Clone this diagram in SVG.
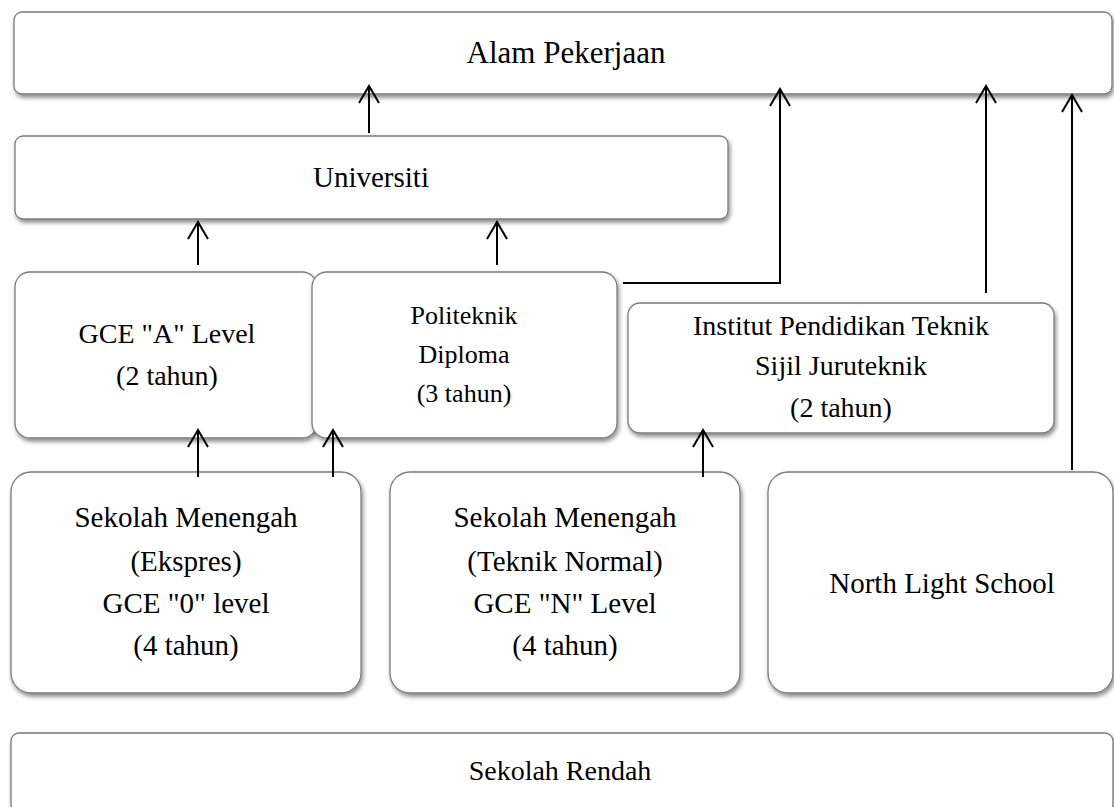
<svg xmlns="http://www.w3.org/2000/svg" width="1114" height="807" viewBox="0 0 1114 807">
  <defs>
    <filter id="shadow" x="-5%" y="-10%" width="110%" height="130%">
      <feDropShadow dx="1.5" dy="3" stdDeviation="2" flood-color="#000" flood-opacity="0.45"/>
    </filter>
    <!-- open V arrowhead, drawn pointing along +x so orient="auto" follows the line -->
    <marker id="arrow" viewBox="0 0 20 22" refX="18" refY="11" markerWidth="20" markerHeight="22" markerUnits="userSpaceOnUse" orient="auto">
      <path d="M1,1 L18,11 L1,21" fill="none" stroke="#000" stroke-width="2"/>
    </marker>
  </defs>
  <style>
    .box { fill: #fff; stroke: #7a7a7a; stroke-width: 1.3; filter: url(#shadow); }
    .lbl { font-family: "Liberation Serif", "Times New Roman", serif; font-size: 28px; fill: #000; text-anchor: middle; }
    .small { font-size: 26px; }
    .mid { font-size: 29px; }
    .big { font-size: 31px; }
    .conn { fill: none; stroke: #000; stroke-width: 2; }
  </style>
  <rect width="1114" height="807" fill="#fff"/>

  <g id="alam-pekerjaan">
    <rect class="box" x="14" y="12" width="1098" height="82" rx="8"/>
    <text class="lbl big" x="566" y="63">Alam Pekerjaan</text>
  </g>

  <g id="universiti">
    <rect class="box" x="15" y="136" width="713" height="83" rx="8"/>
    <text class="lbl mid" x="371" y="187">Universiti</text>
  </g>

  <g id="gce-a-level">
    <rect class="box" x="15" y="272" width="302" height="166" rx="15"/>
    <text class="lbl" x="167" y="343">GCE "A" Level</text>
    <text class="lbl" x="167" y="385">(2 tahun)</text>
  </g>

  <g id="politeknik">
    <rect class="box" x="312" y="272" width="305" height="166" rx="15"/>
    <text class="lbl small" x="464" y="324">Politeknik</text>
    <text class="lbl small" x="464" y="363">Diploma</text>
    <text class="lbl small" x="464" y="402">(3 tahun)</text>
  </g>

  <g id="institut">
    <rect class="box" x="628" y="303" width="426" height="130" rx="12"/>
    <text class="lbl" x="841" y="335">Institut Pendidikan Teknik</text>
    <text class="lbl" x="841" y="375">Sijil Juruteknik</text>
    <text class="lbl" x="841" y="417">(2 tahun)</text>
  </g>

  <g id="menengah-ekspres">
    <rect class="box" x="11" y="472" width="350" height="221" rx="20"/>
    <text class="lbl mid" x="186" y="527">Sekolah Menengah</text>
    <text class="lbl mid" x="186" y="571">(Ekspres)</text>
    <text class="lbl mid" x="186" y="613">GCE "0" level</text>
    <text class="lbl mid" x="186" y="655">(4 tahun)</text>
  </g>

  <g id="menengah-teknik-normal">
    <rect class="box" x="390" y="472" width="350" height="221" rx="20"/>
    <text class="lbl mid" x="565" y="527">Sekolah Menengah</text>
    <text class="lbl mid" x="565" y="571">(Teknik Normal)</text>
    <text class="lbl mid" x="565" y="613">GCE "N" Level</text>
    <text class="lbl mid" x="565" y="655">(4 tahun)</text>
  </g>

  <g id="north-light">
    <rect class="box" x="768" y="472" width="345" height="221" rx="20"/>
    <text class="lbl mid" x="942" y="593">North Light School</text>
  </g>

  <g id="sekolah-rendah">
    <rect class="box" x="11" y="733" width="1102" height="80" rx="8"/>
    <text class="lbl" x="560" y="780">Sekolah Rendah</text>
  </g>

  <g id="connectors">
    <path class="conn" d="M369,133 V86" marker-end="url(#arrow)"/>
    <path class="conn" d="M623,283 H780 V89" marker-end="url(#arrow)"/>
    <path class="conn" d="M986,293 V86" marker-end="url(#arrow)"/>
    <path class="conn" d="M1072,470 V95" marker-end="url(#arrow)"/>
    <path class="conn" d="M198,265 V222" marker-end="url(#arrow)"/>
    <path class="conn" d="M497,265 V222" marker-end="url(#arrow)"/>
    <path class="conn" d="M198,477 V430" marker-end="url(#arrow)"/>
    <path class="conn" d="M333,477 V430" marker-end="url(#arrow)"/>
    <path class="conn" d="M703,477 V430" marker-end="url(#arrow)"/>
  </g>
</svg>
